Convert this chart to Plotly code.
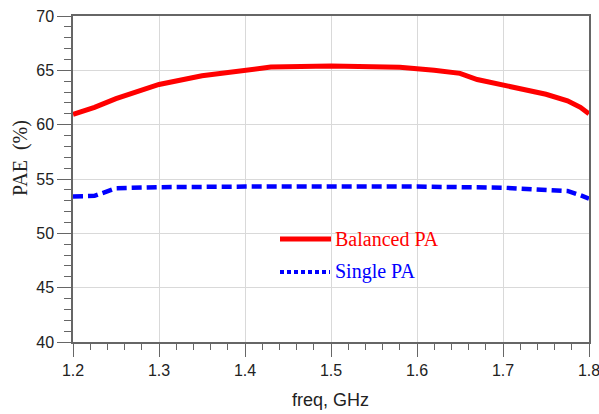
import plotly.graph_objects as go

freq_bal = [1.2, 1.225, 1.25, 1.3, 1.35, 1.4, 1.43, 1.5, 1.55, 1.58, 1.62, 1.65, 1.67, 1.7, 1.75, 1.775, 1.79, 1.8]
pae_bal = [60.95, 61.6, 62.4, 63.7, 64.5, 65.0, 65.3, 65.4, 65.35, 65.28, 65.0, 64.72, 64.15, 63.6, 62.8, 62.2, 61.6, 61.0]

freq_single = [1.2, 1.225, 1.25, 1.3, 1.4, 1.5, 1.6, 1.7, 1.76, 1.775, 1.79, 1.8]
pae_single = [53.4, 53.45, 54.15, 54.25, 54.3, 54.35, 54.3, 54.2, 54.0, 53.9, 53.5, 53.2]

x_ticks = [1.2, 1.3, 1.4, 1.5, 1.6, 1.7, 1.8]
y_ticks = [40, 45, 50, 55, 60, 65, 70]

fig = go.Figure()
fig.add_trace(go.Scatter(x=freq_bal, y=pae_bal, mode="lines", name="Balanced PA",
                         line=dict(color="#ff0000", width=5), showlegend=False))
fig.add_trace(go.Scatter(x=freq_single, y=pae_single, mode="lines", name="Single PA",
                         line=dict(color="#0000ff", width=4.5, dash="10px,5px"), showlegend=False))

# legend drawn inside plot
L, R, T, B = 73, 589, 16, 342
def px(p):
    return (p - L) / (R - L)
def py(p):
    return (B - p) / (B - T)

fig.add_shape(type="line", xref="paper", yref="paper", x0=px(280), x1=px(331), y0=py(239), y1=py(239),
              line=dict(color="#ff0000", width=5))
fig.add_shape(type="line", xref="paper", yref="paper", x0=px(280), x1=px(330), y0=py(272), y1=py(272),
              line=dict(color="#0000ff", width=4, dash="4px,3px"))
fig.add_annotation(xref="paper", yref="paper", x=px(333), y=py(239), text="Balanced PA", showarrow=False,
                   xanchor="left", yanchor="middle", font=dict(family="Liberation Serif", size=20, color="#ff0000"))
fig.add_annotation(xref="paper", yref="paper", x=px(333), y=py(271), text="Single PA", showarrow=False,
                   xanchor="left", yanchor="middle", font=dict(family="Liberation Serif", size=20, color="#0000ff"))

# axis titles
fig.add_annotation(xref="paper", yref="paper", x=px(20), y=py(158), text="PAE  (%)", showarrow=False,
                   textangle=-90, xanchor="center", yanchor="middle",
                   font=dict(family="Liberation Serif", size=20, color="#222"))
fig.add_annotation(xref="paper", yref="paper", x=px(330), y=py(400), text="freq, GHz", showarrow=False,
                   xanchor="center", yanchor="middle",
                   font=dict(family="Liberation Sans", size=18, color="#222"))

fig.update_layout(
    width=599, height=414,
    margin=dict(l=L, r=599 - R, t=T, b=414 - B),
    paper_bgcolor="white", plot_bgcolor="white",
    xaxis=dict(range=[1.2, 1.8], tickvals=x_ticks, ticktext=[str(v) for v in x_ticks], automargin=False,
               ticklabeloverflow="allow",
               ticks="outside", ticklen=13, tickcolor="#666", showgrid=True, gridcolor="#d9d9d9",
               showline=True, linecolor="#666", linewidth=1.5, mirror=True, zeroline=False,
               minor=dict(dtick=0.02, ticks="outside", ticklen=6, tickcolor="#666", showgrid=False),
               tickfont=dict(family="Liberation Sans", size=16, color="#222")),
    yaxis=dict(range=[40, 70], tickvals=y_ticks, ticks="outside", ticklen=14, tickcolor="#666", automargin=False,
               ticklabeloverflow="allow",
               showgrid=True, gridcolor="#d9d9d9", showline=True, linecolor="#666", linewidth=1.5,
               mirror=True, zeroline=False,
               minor=dict(dtick=1, ticks="outside", ticklen=7, tickcolor="#666", showgrid=False),
               tickfont=dict(family="Liberation Sans", size=16, color="#222")),
)

fig.write_html("out.html")
